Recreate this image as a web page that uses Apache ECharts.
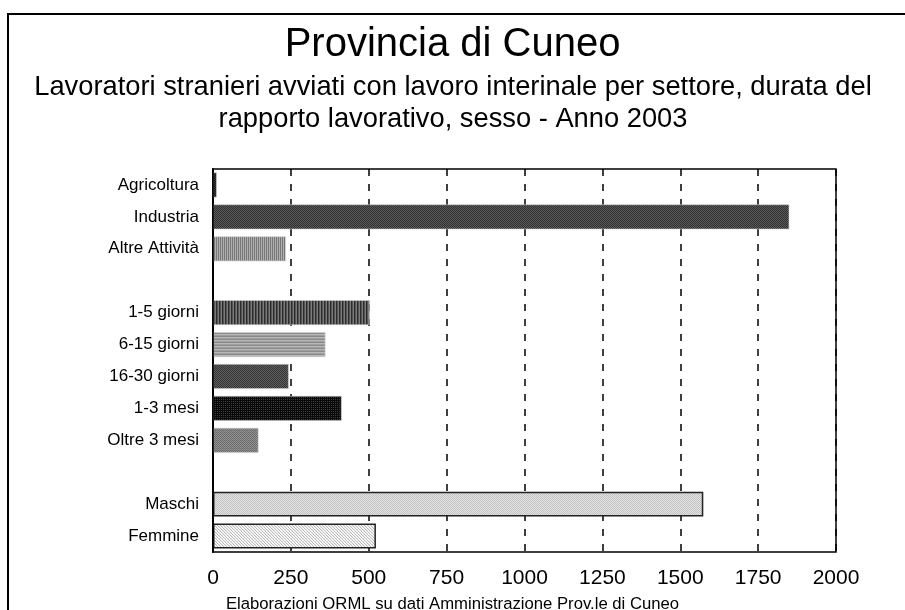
<!DOCTYPE html>
<html>
<head>
<meta charset="utf-8">
<script src="https://cdn.jsdelivr.net/npm/echarts@6/dist/echarts.min.js"></script>
<style>
  html, body { margin: 0; padding: 0; background: #fff; }
  #main { width: 905px; height: 610px; }
</style>
</head>
<body>
<div id="main"></div>
<script>
// categories (blank rows separate the three groups)
var categories = ['Agricoltura', 'Industria', 'Altre Attività', ' ',
    '1-5 giorni', '6-15 giorni', '16-30 giorni', '1-3 mesi', 'Oltre 3 mesi', '  ',
    'Maschi', 'Femmine'];
var values = [12, 1850, 234, null, 503, 361, 243, 413, 146, null, 1574, 523];
var xTicks = [0, 250, 500, 750, 1000, 1250, 1500, 1750, 2000];

// small canvas tiles used as fill patterns
function tile(w, h, cells) {
    var c = document.createElement('canvas');
    c.width = w;
    c.height = h;
    var ctx = c.getContext('2d');
    for (var i = 0; i < cells.length; i++) {
        ctx.fillStyle = cells[i];
        ctx.fillRect(i % w, Math.floor(i / w), 1, 1);
    }
    return { image: c, repeat: 'repeat' };
}

var fills = [
    tile(2, 2, ['#111', '#3a3a3a', '#3a3a3a', '#111']),
    tile(2, 2, ['#2e2e2e', '#5c5c5c', '#5c5c5c', '#2e2e2e']),
    tile(2, 1, ['#777', '#b0b0b0']),
    null,
    tile(3, 1, ['#2c2c2c', '#555', '#7a7a7a']),
    tile(1, 3, ['#8a8a8a', '#b8b8b8', '#9f9f9f']),
    tile(2, 2, ['#333', '#606060', '#606060', '#333']),
    tile(2, 2, ['#0a0a0a', '#0a0a0a', '#0a0a0a', '#3c3c3c']),
    tile(2, 2, ['#666', '#8c8c8c', '#999', '#6e6e6e']),
    null,
    tile(2, 2, ['#c4c4c4', '#e2e2e2', '#e2e2e2', '#c4c4c4']),
    tile(3, 3, ['#fff', '#bbb', '#f0f0f0', '#e6e6e6', '#fff', '#bbb', '#bbb', '#f0f0f0', '#fff'])
];

var barData = values.map(function (v, i) {
    var bordered = categories[i] === 'Maschi' || categories[i] === 'Femmine';
    return {
        value: v,
        itemStyle: {
            color: fills[i] || '#fff',
            borderColor: bordered ? '#222' : '#cfcfcf',
            borderWidth: bordered ? 1.5 : 0.6
        }
    };
});

var chart = echarts.init(document.getElementById('main'), null, { renderer: 'canvas' });
var font = 'Liberation Sans, Arial, sans-serif';

chart.setOption({
    backgroundColor: '#fff',
    animation: false,
    title: [{
        text: 'Provincia di Cuneo',
        left: 'center',
        top: 20,
        textStyle: { fontFamily: font, fontSize: 40, fontWeight: 'normal', color: '#000' }
    }, {
        text: 'Elaborazioni ORML su dati Amministrazione Prov.le di Cuneo',
        left: 'center',
        top: 591,
        textStyle: { fontFamily: font, fontSize: 16.7, fontWeight: 'normal', color: '#000' }
    }],
    graphic: [{
        type: 'rect',
        shape: { x: 8, y: 14, width: 1000, height: 1000 },
        style: { fill: 'none', stroke: '#000', lineWidth: 2 },
        silent: true
    }, {
        type: 'text',
        x: 453,
        y: 71,
        style: {
            text: 'Lavoratori stranieri avviati con lavoro interinale per settore, durata del\nrapporto lavorativo, sesso - Anno 2003',
            font: '27.3px ' + font,
            lineHeight: 32,
            align: 'center',
            fill: '#000'
        },
        silent: true
    }, {
        // plot frame drawn above the dashed grid lines
        type: 'rect',
        shape: { x: 213, y: 169, width: 623, height: 383 },
        style: { fill: 'none', stroke: '#000', lineWidth: 1.5 },
        z: 100,
        silent: true
    }],
    grid: {
        left: 213,
        right: 69,
        top: 169,
        bottom: 58,
        show: true,
        borderWidth: 0,
        backgroundColor: '#fff'
    },
    xAxis: {
        type: 'value',
        min: xTicks[0],
        max: xTicks[xTicks.length - 1],
        interval: 250,
        axisLine: { show: false },
        axisTick: { show: false },
        axisLabel: {
            fontFamily: font, fontSize: 21, color: '#000', margin: 16,
            formatter: function (v) { return xTicks.indexOf(v) >= 0 ? String(v) : ''; }
        },
        splitLine: {
            show: true,
            lineStyle: { color: '#000', width: 1.5, type: [7, 8] }
        }
    },
    yAxis: {
        type: 'category',
        data: categories,
        inverse: true,
        axisLine: { show: true, lineStyle: { color: '#000', width: 2 } },
        axisTick: { show: false },
        axisLabel: { fontFamily: font, fontSize: 17, color: '#000', margin: 14 }
    },
    series: [{
        type: 'bar',
        data: barData,
        barCategoryGap: '22%',
        z: 3
    }]
});
</script>
</body>
</html>
